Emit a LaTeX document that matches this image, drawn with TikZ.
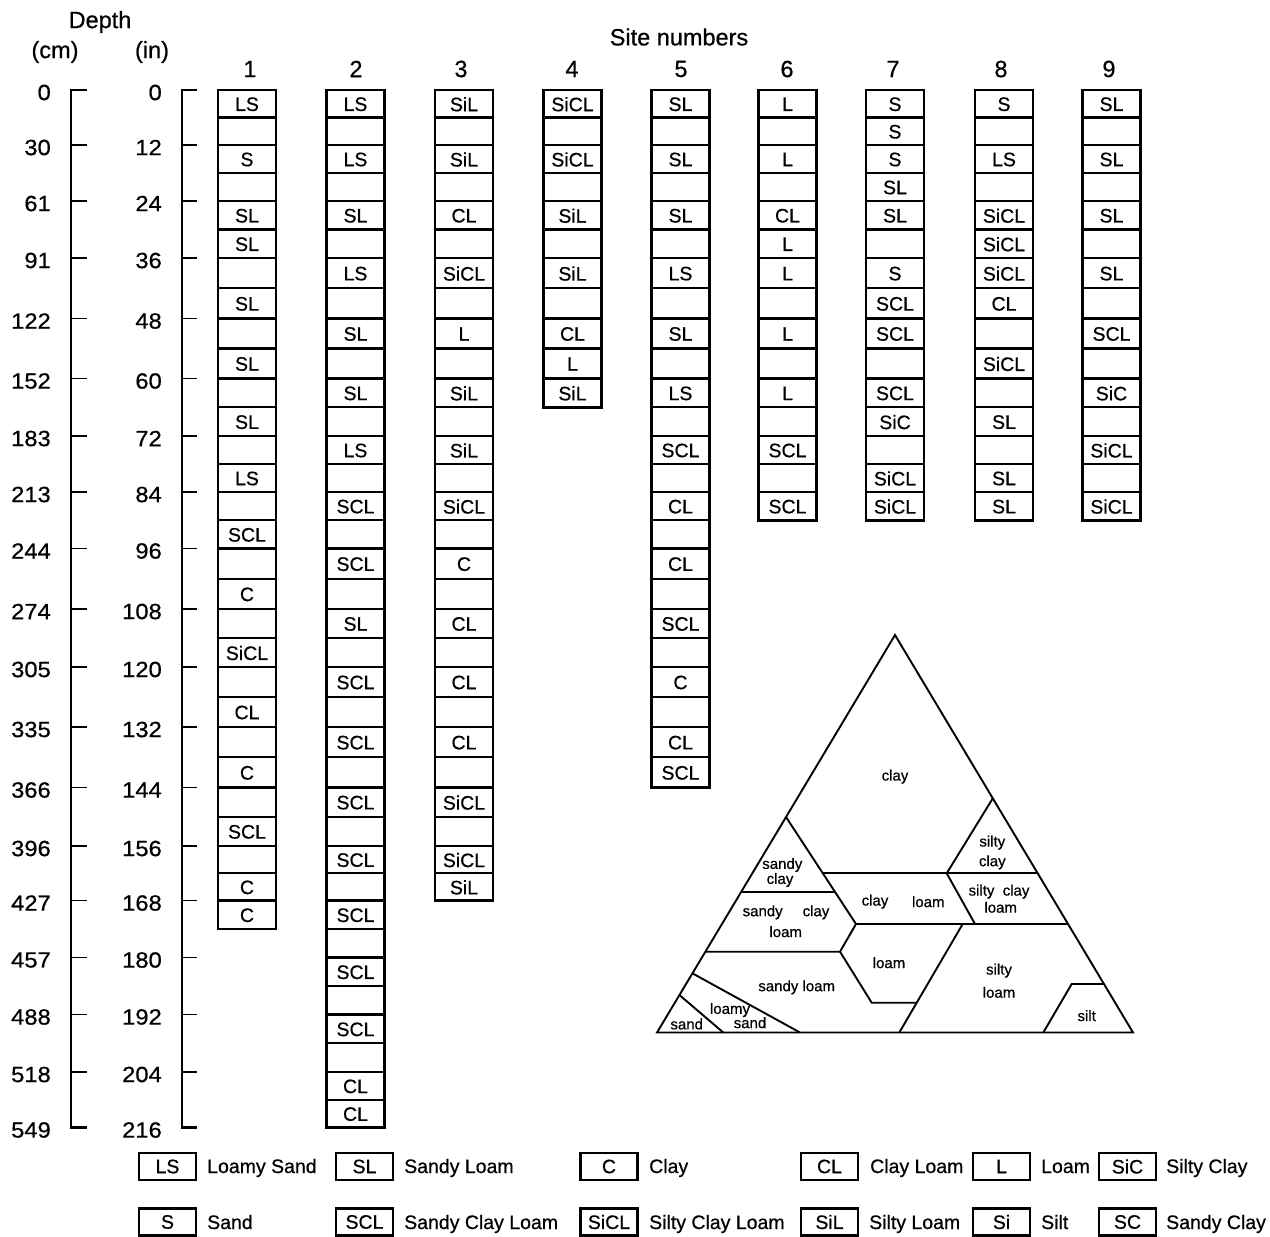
\documentclass[tikz,border=0pt]{standalone}
\usepackage{fontspec}
\setmainfont{Liberation Sans}[FakeBold=0.6]
\newfontfamily\numfont[FakeStretch=1.08,FakeBold=0.6]{Liberation Sans}
\def\Tarr{{90,145,201,258,318.5,378.5,436,492,548.5,609,667,727,787.5,846,900.5,957.5,1014.5,1072,1127.5,1185}}
\newcommand\getB[1]{%
  \pgfmathtruncatemacro\hk{floor((#1)/2)}%
  \pgfmathtruncatemacro\hr{(#1)-2*\hk}%
  \pgfmathtruncatemacro\hn{\hk+1}%
  \pgfmathsetmacro\yB{\Tarr[\hk]*(1-\hr/2)+\Tarr[\hn]*\hr/2}%
}
\newcommand\soilcol[4]{%
  \pgfmathtruncatemacro\nm{#3-1}%
  \foreach \i in {1,...,\nm} {\getB{\i}\draw[cellsep] (#2-29,\yB) -- (#2+29,\yB);}
  \foreach \i/\lab in {#4} {\getB{\i}\let\ya\yB\getB{\i+1}%
    \node[celltxt] (s#1-\i) at (#2,{(\ya+\yB)/2+0.5}) {\lab};}
  \getB{#3}%
  \draw[colframe] (#2-29,90) rectangle (#2+29,\yB);
}
\tikzset{
  cellsep/.style={line width=2.3pt},
  colframe/.style={line width=2.9pt},
  celltxt/.style={inner sep=0pt, font=\fontsize{19.5}{19.5}\selectfont},
  axnum/.style={inner sep=0pt, anchor=east, font=\numfont\fontsize{22}{22}\selectfont},
  headtxt/.style={inner sep=0pt, font=\fontsize{23.5}{23.5}\selectfont},
  legbox/.style={draw, line width=2.2pt, minimum width=57pt, minimum height=27pt, inner sep=0pt, font=\fontsize{19.5}{19.5}\selectfont},
  legtxt/.style={anchor=base west, inner sep=0pt, font=\fontsize{19.5}{19.5}\selectfont},
  tri/.style={line width=1.9pt, line join=miter},
  tlab/.style={inner sep=0pt, font=\fontsize{15}{15}\selectfont},
  axline/.style={line width=2.2pt},
  axtick/.style={line width=1.7pt},
}
\begin{document}
\begin{tikzpicture}[x=1pt,y=-1pt]
\useasboundingbox (0,0) rectangle (1270,1237);
% headings
\node[headtxt] (hdepth) at (100,22) {Depth};
\node[headtxt] (hcm) at (55,52) {(cm)};
\node[headtxt] (hin) at (152,52) {(in)};
\node[headtxt] (hsite) at (679,37) {Site numbers};
\foreach \c/\x in {1/250,2/356,3/461,4/572,5/681,6/787,7/893,8/1001,9/1109}
  \node[headtxt] (site\c) at (\x,69) {\c};
% depth axes
\draw[axline] (87,90) -- (71,90) -- (71,1127.5) -- (87,1127.5);
\draw[axline] (197,90) -- (182,90) -- (182,1127.5) -- (197,1127.5);
\foreach \k/\cm in {0/0,1/30,2/61,3/91,4/122,5/152,6/183,7/213,8/244,9/274,10/305,11/335,12/366,13/396,14/427,15/457,16/488,17/518,18/549} {
  \pgfmathsetmacro\yt{\Tarr[\k]}
  \pgfmathtruncatemacro\inch{12*\k}
  \draw[axtick] (71,\yt) -- (87,\yt);
  \draw[axtick] (182,\yt) -- (197,\yt);
  \node[axnum] (cm\k) at (51,\yt+2.5) {\cm};
  \node[axnum] (in\k) at (162,\yt+2.5) {\inch};
}
% columns
\soilcol{1}{247}{29}{0/LS,2/S,4/SL,5/SL,7/SL,9/SL,11/SL,13/LS,15/SCL,17/C,19/SiCL,21/CL,23/C,25/SCL,27/C,28/C}
\soilcol{2}{355.5}{36}{0/LS,2/LS,4/SL,6/LS,8/SL,10/SL,12/LS,14/SCL,16/SCL,18/SL,20/SCL,22/SCL,24/SCL,26/SCL,28/SCL,30/SCL,32/SCL,34/CL,35/CL}
\soilcol{3}{464}{28}{0/SiL,2/SiL,4/CL,6/SiCL,8/L,10/SiL,12/SiL,14/SiCL,16/C,18/CL,20/CL,22/CL,24/SiCL,26/SiCL,27/SiL}
\soilcol{4}{572.5}{11}{0/SiCL,2/SiCL,4/SiL,6/SiL,8/CL,9/L,10/SiL}
\soilcol{5}{680.5}{24}{0/SL,2/SL,4/SL,6/LS,8/SL,10/LS,12/SCL,14/CL,16/CL,18/SCL,20/C,22/CL,23/SCL}
\soilcol{6}{787.5}{15}{0/L,2/L,4/CL,5/L,6/L,8/L,10/L,12/SCL,14/SCL}
\soilcol{7}{895}{15}{0/S,1/S,2/S,3/SL,4/SL,6/S,7/SCL,8/SCL,10/SCL,11/SiC,13/SiCL,14/SiCL}
\soilcol{8}{1004}{15}{0/S,2/LS,4/SiCL,5/SiCL,6/SiCL,7/CL,9/SiCL,11/SL,13/SL,14/SL}
\soilcol{9}{1111.5}{15}{0/SL,2/SL,4/SL,6/SL,8/SCL,10/SiC,12/SiCL,14/SiCL}
% texture triangle
\coordinate (A) at (895,635);
\coordinate (BL) at (657,1032.5);
\coordinate (BR) at (1133,1032.5);
\coordinate (L1) at (786,817);
\coordinate (L2) at (741.3,891.7);
\coordinate (L3) at (705.4,951.7);
\coordinate (L4) at (692.4,973.3);
\coordinate (L5) at (679.4,995);
\coordinate (R1) at (992.8,798.3);
\coordinate (R2) at (1037.7,873.3);
\coordinate (R3) at (1068,924);
\coordinate (R4) at (1104,984);
\coordinate (B1) at (723.3,1032.5);
\coordinate (B2) at (800,1032.5);
\coordinate (B3) at (899.3,1032.5);
\coordinate (B4) at (1043.3,1032.5);
\coordinate (P1) at (822.8,873.3);
\coordinate (Q) at (834.9,891.7);
\coordinate (P2) at (946.7,873.3);
\coordinate (P3) at (856,924);
\coordinate (P4) at (975,924);
\coordinate (P5) at (962.7,924);
\coordinate (P6) at (840,951.7);
\coordinate (P7) at (871.7,1002.7);
\coordinate (P8) at (916.6,1002.7);
\coordinate (S1) at (1071.7,984);
\draw[tri] (A) -- (BL) -- (BR) -- cycle;
\draw[tri] (L1) -- (P3);
\draw[tri] (P1) -- (P2) -- (R2);
\draw[tri] (P2) -- (R1);
\draw[tri] (P2) -- (P4);
\draw[tri] (L2) -- (Q);
\draw[tri] (P3) -- (R3);
\draw[tri] (L3) -- (P6) -- (P3);
\draw[tri] (P6) -- (P7) -- (P8);
\draw[tri] (P5) -- (B3);
\draw[tri] (L4) -- (B2);
\draw[tri] (L5) -- (B1);
\draw[tri] (R4) -- (S1) -- (B4);
\node[tlab] (t1) at (895,776.7) {clay};
\node[tlab] (t2) at (992.3,842.7) {silty};
\node[tlab] (t3) at (992.3,862.3) {clay};
\node[tlab] (t4) at (782.3,865) {sandy};
\node[tlab] (t5) at (780,880) {clay};
\node[tlab] (t6) at (875,901.7) {clay};
\node[tlab] (t7) at (928.3,901.7) {loam};
\node[tlab] (t8) at (999,891.7) {silty\ \ clay};
\node[tlab] (t9) at (1000.7,907.3) {loam};
\node[tlab] (t10) at (762.7,912.3) {sandy};
\node[tlab] (t11) at (816,912.3) {clay};
\node[tlab] (t12) at (785.7,931.7) {loam};
\node[tlab] (t13) at (889,962.7) {loam};
\node[tlab] (t14) at (999,970.7) {silty};
\node[tlab] (t15) at (999,992.3) {loam};
\node[tlab] (t16) at (796.7,987.3) {sandy\ loam};
\node[tlab] (t17) at (730,1010) {loamy};
\node[tlab] (t18) at (750,1022.7) {sand};
\node[tlab] (t19) at (686.7,1024) {sand};
\node[tlab] (t20) at (1086.7,1015.7) {silt};
% legend
\foreach \n/\bx/\tx/\ab/\txt in {a/167.5/207/LS/Loamy Sand, b/364.5/404/SL/Sandy Loam, c/609/649/C/Clay, d/829.5/870/CL/Clay Loam, e/1001.5/1041/L/Loam, f/1127.5/1166/SiC/Silty Clay} {
  \node[legbox] (lb\n) at (\bx,1166.5) {\ab};
  \node[legtxt] (lt\n) at (\tx,1173) {\txt};
}
\foreach \n/\bx/\tx/\ab/\txt in {a/167.5/207/S/Sand, b/364.5/404/SCL/Sandy Clay Loam, c/609/649/SiCL/Silty Clay Loam, d/829.5/869/SiL/Silty Loam, e/1001.5/1041/Si/Silt, f/1127.5/1166/SC/Sandy Clay} {
  \node[legbox] (mb\n) at (\bx,1222) {\ab};
  \node[legtxt] (mt\n) at (\tx,1229) {\txt};
}
\end{tikzpicture}
\end{document}
